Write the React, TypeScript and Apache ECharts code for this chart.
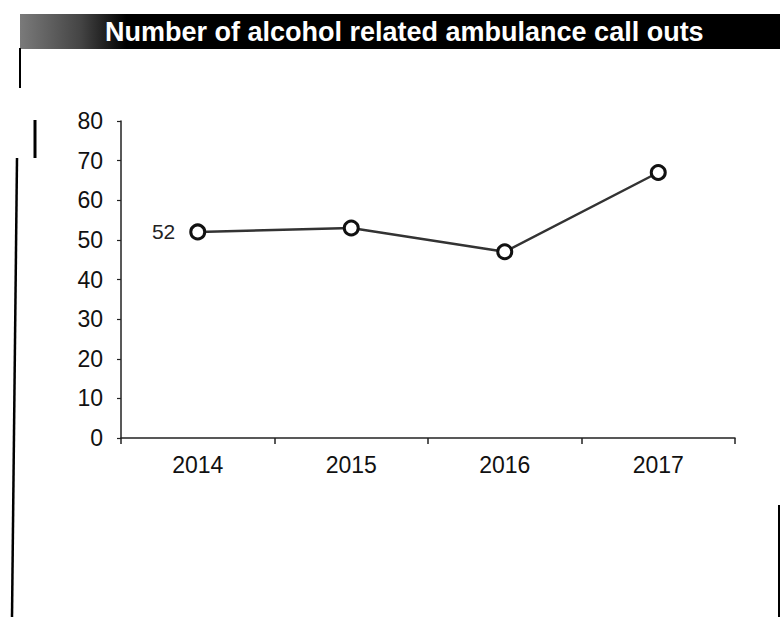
import React, { useEffect, useRef } from "react";
import * as echarts from "echarts";

const titleText = "Number of alcohol related ambulance call outs";
const years = ["2014", "2015", "2016", "2017"];
const callOuts = [52, 53, 47, 67];
const labelledIndex = [0];
const yMin = 0;
const yMax = 80;
const yStep = 10;

const FONT = "Liberation Sans, Arial, sans-serif";

export default function App() {
  const ref = useRef<HTMLDivElement>(null);
  useEffect(() => {
    document.body.style.margin = "0";
    const chart = echarts.init(ref.current!, null, { renderer: "svg" });
    const option = {
      animation: false,
      backgroundColor: "#ffffff",
      grid: { left: 121, right: 45, top: 121, bottom: 179, containLabel: false },
      xAxis: {
        type: "category",
        data: years,
        boundaryGap: true,
        axisLine: { show: true, lineStyle: { color: "#222", width: 1.5 } },
        axisTick: { show: true, alignWithLabel: false, inside: false, length: 6, lineStyle: { color: "#222", width: 1.5 } },
        axisLabel: { color: "#111", fontFamily: FONT, fontSize: 23, margin: 15 },
        splitLine: { show: false },
      },
      yAxis: {
        type: "value",
        min: yMin,
        max: yMax,
        interval: yStep,
        axisLine: { show: true, lineStyle: { color: "#222", width: 1.5 } },
        axisTick: { show: true, inside: false, length: 4, lineStyle: { color: "#222", width: 1.2 } },
        axisLabel: { color: "#111", fontFamily: FONT, fontSize: 23, margin: 18 },
        splitLine: { show: false },
      },
      series: [
        {
          type: "line",
          data: callOuts.map((v, i) => ({
            value: v,
            label: {
              show: labelledIndex.includes(i),
              position: "left",
              distance: 14,
              color: "#222",
              fontFamily: FONT,
              fontSize: 21,
            },
          })),
          symbol: "circle",
          symbolSize: 14,
          itemStyle: { color: "#fff", borderColor: "#111", borderWidth: 3 },
          lineStyle: { color: "#333", width: 2.5 },
        },
      ],
      graphic: [
        {
          type: "rect",
          shape: { x: 20, y: 14, width: 760, height: 35 },
          style: {
            fill: new echarts.graphic.LinearGradient(0, 0, 1, 0, [
              { offset: 0, color: "#7a7a7a" },
              { offset: 0.08, color: "#444" },
              { offset: 0.14, color: "#000" },
              { offset: 1, color: "#000" },
            ]),
          },
        },
        {
          type: "text",
          x: 105,
          y: 32,
          style: {
            text: titleText,
            fill: "#fff",
            fontFamily: FONT,
            fontWeight: "bold",
            fontSize: 27,
            verticalAlign: "middle",
            align: "left",
          },
        },
        { type: "line", shape: { x1: 20, y1: 48, x2: 20, y2: 88 }, style: { stroke: "#000", lineWidth: 2 } },
        { type: "line", shape: { x1: 35, y1: 120, x2: 35, y2: 158 }, style: { stroke: "#000", lineWidth: 3 } },
        { type: "line", shape: { x1: 17, y1: 158, x2: 12, y2: 617 }, style: { stroke: "#000", lineWidth: 2.5 } },
        { type: "line", shape: { x1: 779, y1: 505, x2: 779, y2: 617 }, style: { stroke: "#000", lineWidth: 2 } },
      ],
    };
    chart.setOption(option);
    return () => chart.dispose();
  }, []);
  return <div ref={ref} style={{ width: 780, height: 617 }} />;
}
